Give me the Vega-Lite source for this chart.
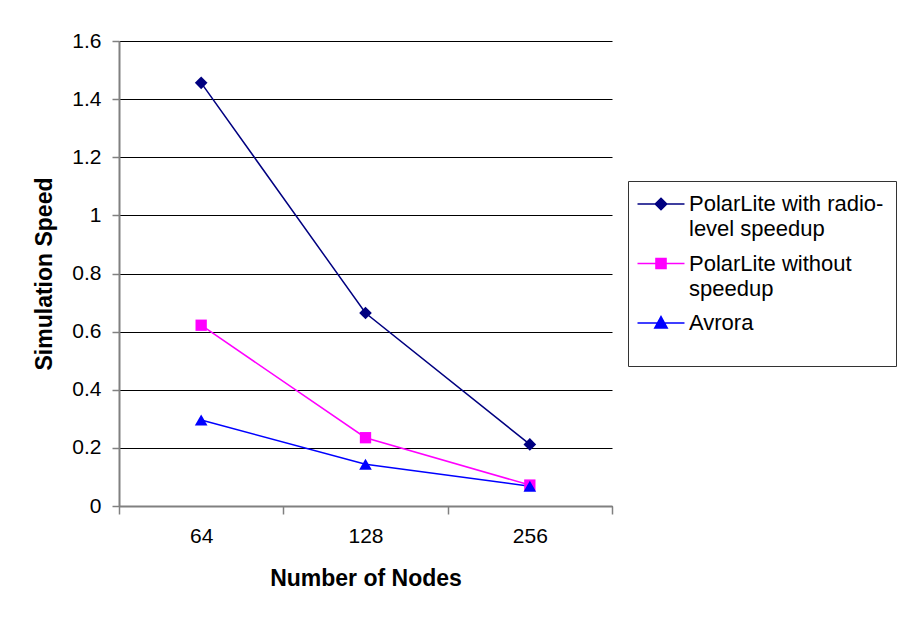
{
  "$schema": "https://vega.github.io/schema/vega-lite/v6.json",
  "width": 493,
  "height": 465,
  "padding": {"left": 33, "top": 30, "right": 5, "bottom": 5},
  "background": "white",
  "config": {
    "font": "Liberation Sans",
    "view": {"stroke": null},
    "axis": {
      "labelFont": "Liberation Sans",
      "titleFont": "Liberation Sans",
      "labelFontSize": 21,
      "titleFontSize": 23,
      "titleFontWeight": "bold",
      "labelColor": "black",
      "titleColor": "black"
    }
  },
  "data": {
    "values": [
      {"series": "PolarLite with radio-level speedup", "nodes": "64", "speed": 1.456},
      {"series": "PolarLite with radio-level speedup", "nodes": "128", "speed": 0.664},
      {"series": "PolarLite with radio-level speedup", "nodes": "256", "speed": 0.212},
      {"series": "PolarLite without speedup", "nodes": "64", "speed": 0.622},
      {"series": "PolarLite without speedup", "nodes": "128", "speed": 0.235},
      {"series": "PolarLite without speedup", "nodes": "256", "speed": 0.072},
      {"series": "Avrora", "nodes": "64", "speed": 0.296},
      {"series": "Avrora", "nodes": "128", "speed": 0.144},
      {"series": "Avrora", "nodes": "256", "speed": 0.068}
    ]
  },
  "encoding": {
    "x": {
      "field": "nodes",
      "type": "ordinal",
      "sort": ["64", "128", "256"],
      "scale": {"type": "band", "paddingInner": 0, "paddingOuter": 0},
      "axis": {
        "title": "Number of Nodes",
        "labelAngle": 0,
        "tickBand": "extent",
        "domainColor": "#808080",
        "domainWidth": 2,
        "tickColor": "#808080",
        "tickWidth": 1.5,
        "tickSize": 8,
        "labelPadding": 11,
        "titlePadding": 21,
        "grid": false
      }
    },
    "y": {
      "field": "speed",
      "type": "quantitative",
      "scale": {"domain": [0, 1.6], "nice": false},
      "axis": {
        "title": "Simulation Speed",
        "values": [0, 0.2, 0.4, 0.6, 0.8, 1, 1.2, 1.4, 1.6],
        "labelExpr": "datum.value == 0 ? '0' : datum.value == 1 ? '1' : format(datum.value, '.1f')",
        "grid": true,
        "gridColor": "black",
        "gridWidth": 1,
        "domainColor": "#808080",
        "domainWidth": 2,
        "tickColor": "#808080",
        "tickWidth": 1.5,
        "tickSize": 7,
        "labelPadding": 11,
        "titlePadding": 15
      }
    }
  },
  "layer": [
    {
      "mark": {"type": "line", "strokeWidth": 1.5},
      "encoding": {
        "color": {
          "field": "series",
          "type": "nominal",
          "scale": {
            "domain": ["PolarLite with radio-level speedup", "PolarLite without speedup", "Avrora"],
            "range": ["#000080", "#FF00FF", "#0000FF"]
          },
          "legend": {
            "title": " ",
            "titleOrient": "bottom",
            "titleFontSize": 14,
            "titlePadding": 6,
            "orient": "none",
            "legendX": 509,
            "legendY": 140,
            "strokeColor": "#333333",
            "fillColor": "white",
            "padding": 12,
            "labelFont": "Liberation Sans",
            "labelFontSize": 22,
            "labelColor": "black",
            "labelLimit": 400,
            "labelOffset": 17,
            "labelBaseline": "middle",
            "rowPadding": 12.5,
            "symbolSize": 324,
            "symbolOffset": 10,
            "symbolStrokeWidth": 1.5,
            "labelExpr": "datum.label == 'PolarLite with radio-level speedup' ? ['PolarLite with radio-', 'level speedup'] : datum.label == 'PolarLite without speedup' ? ['PolarLite without', 'speedup'] : datum.label",
            "encode": {
              "symbols": {
                "update": {
                  "shape": {"signal": "datum.value == 'Avrora' ? 'M-2.61,0H2.61M0,-0.72L0.69,0.55H-0.69Z' : datum.value == 'PolarLite without speedup' ? 'M-2.61,0H2.61M-0.56,-0.56H0.56V0.56H-0.56Z' : 'M-2.61,0H2.61M0,-0.64L0.64,0L0,0.64L-0.64,0Z'"},
                  "stroke": {"signal": "scale('color', datum.value)"},
                  "fill": {"signal": "scale('color', datum.value)"},
                  "strokeWidth": {"value": 1.5},
                  "opacity": {"value": 1}
                }
              },
              "labels": {
                "update": {
                  "lineHeight": {"value": 25}
                }
              }
            }
          }
        }
      }
    },
    {
      "transform": [{"filter": "datum.series == 'PolarLite with radio-level speedup'"}],
      "mark": {"type": "point", "filled": true, "opacity": 1, "size": 160, "shape": "diamond", "color": "#000080"}
    },
    {
      "transform": [{"filter": "datum.series == 'PolarLite without speedup'"}],
      "mark": {"type": "point", "filled": true, "opacity": 1, "size": 128, "shape": "square", "color": "#FF00FF"}
    },
    {
      "transform": [{"filter": "datum.series == 'Avrora'"}],
      "mark": {"type": "point", "filled": true, "opacity": 1, "size": 160, "shape": "triangle-up", "color": "#0000FF"}
    }
  ]
}
